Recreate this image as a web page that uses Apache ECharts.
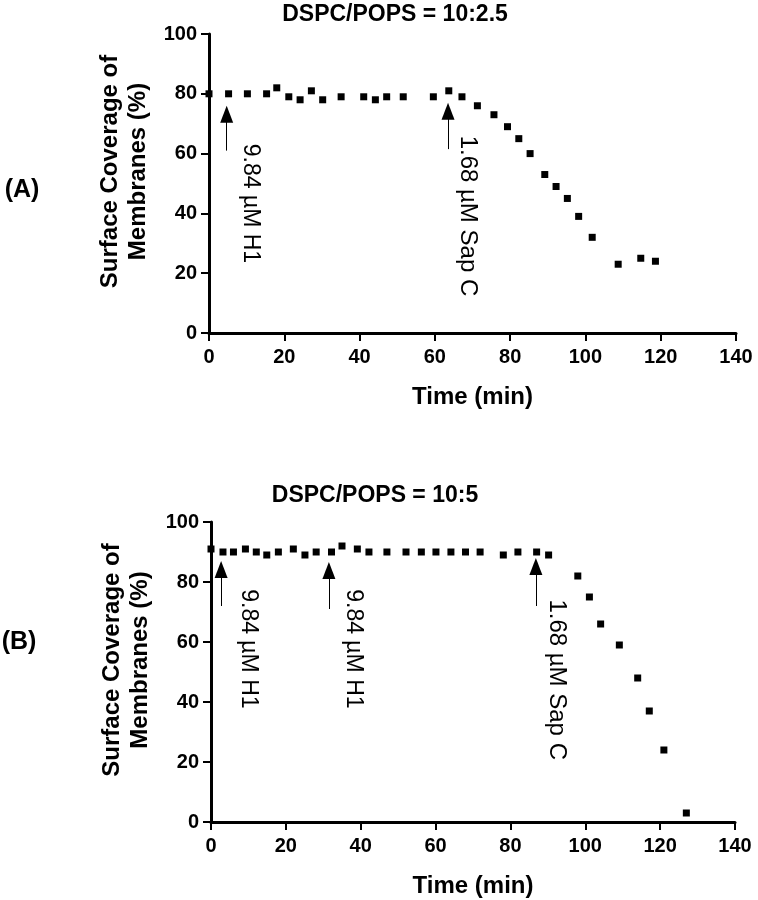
<!DOCTYPE html>
<html>
<head>
<meta charset="utf-8">
<script src="https://cdn.jsdelivr.net/npm/echarts@6/dist/echarts.min.js"></script>
<style>
html,body{margin:0;padding:0;background:#fff;}
#chart{width:758px;height:900px;}
</style>
</head>
<body>
<div id="chart"></div>
<script>
// ---- Data ----
const titleA = 'DSPC/POPS = 10:2.5';
const titleB = 'DSPC/POPS = 10:5';
const xTicks = [0, 20, 40, 60, 80, 100, 120, 140];
const yTicks = [0, 20, 40, 60, 80, 100];

const timeA = [0,5.2,10.2,15.3,18,21.2,24.2,27.2,30.2,35.1,41.1,44.2,47.2,51.6,59.6,63.7,67.2,71.3,75.7,79.3,82.3,85.3,89.2,92.2,95.2,98.2,101.8,108.7,114.7,118.6];
const coverA = [80,80,80,80,82,79,78,81,78,79,79,78,79,79,79,81,79,76,73,69,65,60,53,49,45,39,32,23,25,24];

const timeB = [0,3.2,6,9.2,12.1,14.9,18,22,25.1,28.1,32.2,35,39.1,42.2,47,52.1,56.2,60.1,64.1,68,71.9,78.1,82,87,90.2,98,101.1,104.1,109.1,114,117.1,121,127];
const coverB = [91,90,90,91,90,89,90,91,89,90,90,92,91,90,90,90,90,90,90,90,90,89,90,90,89,82,75,66,59,48,37,24,3];

// Additions (arrows) in data coordinates: time, arrow base value, arrow-head centre value
const arrowTimeA = [4.7, 63.5];
const arrowBaseA = [61, 61.5];
const arrowHeadA = [73.2, 74.2];
const noteTextA = ['9.84 \u00b5M H1', '1.68 \u00b5M Sap C'];
const noteTimeA = [10.9, 68.8];
const noteTopA = [63.3, 66];

const arrowTimeB = [2.7, 31.5, 86.8];
const arrowBaseB = [72, 71, 72];
const arrowHeadB = [84.2, 83.8, 85.2];
const noteTextB = ['9.84 \u00b5M H1', '9.84 \u00b5M H1', '1.68 \u00b5M Sap C'];
const noteTimeB = [10, 38, 92.4];
const noteTopB = [77.6, 77.6, 74.2];

// ---- Chart ----
const FONT = 'Liberation Sans, Arial, Helvetica, sans-serif';
const chart = echarts.init(document.getElementById('chart'));

function xAxisCfg(gridIndex) {
  return {
    type: 'value', gridIndex, min: 0, max: 140, interval: 20,
    name: 'Time (min)', nameLocation: 'middle', nameGap: 52,
    nameTextStyle: {color: '#000', fontFamily: FONT, fontWeight: 'bold', fontSize: 24},
    axisLine: {show: true, onZero: false, lineStyle: {color: '#000', width: 3}},
    axisTick: {show: true, inside: false, length: 8, lineStyle: {color: '#000', width: 2}},
    axisLabel: {color: '#000', fontFamily: FONT, fontWeight: 'bold', fontSize: 20, margin: 14},
    splitLine: {show: false}
  };
}
function yAxisCfg(gridIndex) {
  return {
    type: 'value', gridIndex, min: 0, max: 100, interval: 20,
    name: 'Surface Coverage of\nMembranes (%)', nameLocation: 'middle', nameGap: 55, nameRotate: 90,
    nameTextStyle: {color: '#000', fontFamily: FONT, fontWeight: 'bold', fontSize: 24, lineHeight: 28,
      padding: [0, 0, 0, 24]},
    axisLine: {show: true, onZero: false, lineStyle: {color: '#000', width: 3}},
    axisTick: {show: true, inside: false, length: 8, lineStyle: {color: '#000', width: 2}},
    axisLabel: {color: '#000', fontFamily: FONT, fontWeight: 'bold', fontSize: 20, margin: 12},
    splitLine: {show: false}
  };
}

function zip(a, b) { return a.map((v, i) => [v, b[i]]); }

function arrowLines(t, base, head) {
  return t.map((x, i) => [
    {coord: [x, base[i]], symbol: 'none'},
    {coord: [x, head[i]], symbol: 'triangle', symbolSize: [13, 17]}
  ]);
}
function notes(t, top, txt) {
  return t.map((x, i) => ({value: [x, top[i]], name: txt[i]}));
}

function dataSeries(idx, xs, ys, at, ab, ah) {
  return {
    type: 'scatter', xAxisIndex: idx, yAxisIndex: idx,
    data: zip(xs, ys), symbol: 'rect', symbolSize: 7,
    itemStyle: {color: '#000', opacity: 1}, clip: false, silent: true,
    markLine: {
      silent: true, animation: false,
      symbol: ['none', 'triangle'],
      lineStyle: {color: '#000', width: 1, type: 'solid', opacity: 1},
      label: {show: false},
      emphasis: {disabled: true},
      data: arrowLines(at, ab, ah)
    }
  };
}
function noteSeries(idx, t, top, txt, sizes) {
  return {
    type: 'scatter', xAxisIndex: idx, yAxisIndex: idx,
    data: notes(t, top, txt).map((d, i) => Object.assign(d, {
      label: {fontSize: sizes[i]}
    })),
    symbolSize: 0, silent: true,
    itemStyle: {opacity: 1},
    label: {
      show: true, formatter: p => p.name, rotate: -90,
      position: [0, 0], align: 'left', verticalAlign: 'middle',
      color: '#000', opacity: 1, fontFamily: FONT, fontSize: 23
    }
  };
}

const option = {
  backgroundColor: '#fff',
  animation: false,
  grid: [
    {left: 209, top: 34, width: 527, height: 299},
    {left: 211, top: 522, width: 524, height: 300}
  ],
  xAxis: [xAxisCfg(0), xAxisCfg(1)],
  yAxis: [yAxisCfg(0), yAxisCfg(1)],
  graphic: [
    {type: 'text', x: 395, y: 15, style: {text: titleA, fill: '#000', font: 'bold 23px ' + FONT, align: 'center', verticalAlign: 'middle'}},
    {type: 'text', x: 375, y: 496, style: {text: titleB, fill: '#000', font: 'bold 23px ' + FONT, align: 'center', verticalAlign: 'middle'}},
    {type: 'text', x: 22, y: 190, style: {text: '(A)', fill: '#000', font: 'bold 25px ' + FONT, align: 'center', verticalAlign: 'middle'}},
    {type: 'text', x: 19, y: 642, style: {text: '(B)', fill: '#000', font: 'bold 25px ' + FONT, align: 'center', verticalAlign: 'middle'}}
  ],
  series: [
    dataSeries(0, timeA, coverA, arrowTimeA, arrowBaseA, arrowHeadA),
    dataSeries(1, timeB, coverB, arrowTimeB, arrowBaseB, arrowHeadB),
    noteSeries(0, noteTimeA, noteTopA, noteTextA, [23, 24]),
    noteSeries(1, noteTimeB, noteTopB, noteTextB, [23, 23, 24])
  ]
};
chart.setOption(option);
</script>
</body>
</html>
